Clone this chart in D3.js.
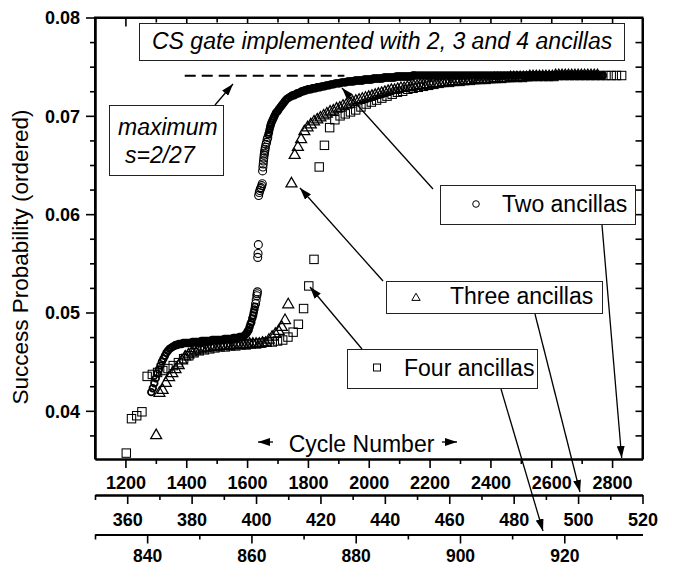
<!DOCTYPE html>
<html><head><meta charset="utf-8">
<script src="https://cdn.jsdelivr.net/npm/d3@7"></script>
<style>
body{margin:0;background:#fff}
svg{display:block}
text{font-family:'Liberation Sans',Arial,sans-serif}
</style>
</head><body>
<svg id="c" width="673" height="566"></svg>
<script>
// ---------------- data ----------------
const yMajorTicks = [0.04, 0.05, 0.06, 0.07, 0.08];
const axis1Ticks = [1200, 1400, 1600, 1800, 2000, 2200, 2400, 2600, 2800];
const axis2Ticks = [360, 380, 400, 420, 440, 460, 480, 500, 520];
const axis3Ticks = [840, 860, 880, 900, 920];

// Two ancillas: [cycle number (axis 1), success probability]
const twoLow = [[1285,.0419],[1290,.0423],[1295,.0428],[1300,.0433],[1305,.0438],[1310,.0442],[1315,.0446],[1320,.0450],
 [1325,.0453],[1330,.0456],[1335,.0459],[1340,.0461],[1345,.0463],[1350,.0464],[1355,.0465],[1360,.0466],[1365,.0467],
 [1370,.0467],[1375,.0468],[1380,.0468],[1385,.0468],[1390,.0469],[1395,.0469],
 [1400,.0469],[1405,.0469],[1410,.0469],[1415,.0469],[1420,.0470],[1425,.0470],[1430,.0470],[1435,.0470],[1440,.0470],
 [1445,.0470],[1450,.0471],[1455,.0471],[1460,.0471],[1465,.0471],[1470,.0471],[1475,.0471],[1480,.0471],[1485,.0472],
 [1490,.0472],[1495,.0472],[1500,.0472],[1505,.0472],[1510,.0472],[1515,.0472],[1520,.0472],[1525,.0473],[1530,.0473],
 [1535,.0473],[1540,.0473],[1545,.0473],[1550,.0473],[1555,.0474],[1560,.0474],[1565,.0474],[1570,.0474],[1575,.0475],
 [1580,.0475],[1585,.0475],[1590,.0476],[1593,.0477],[1596,.0478],[1599,.0479],[1602,.0481],[1605,.0482],[1608,.0485],
 [1611,.0488],[1614,.0490],[1617,.0494],[1620,.0497],[1622,.0500],[1624,.0503],[1626,.0506]];
const twoJump = [[1628,.0509],[1630,.0513],[1632,.0517],[1633,.0519],
 [1634,.0521],[1635,.0556],[1636,.0560],[1637,.0569],
 [1638,.0619],[1640,.0622],[1642,.0624],[1644,.0626],[1646,.0627],[1648,.0629],[1650,.0631],
 [1651,.0644],[1652,.0648],[1653,.0651],[1654,.0654],[1655,.0657],[1656,.0660],[1657,.0662],[1658,.0664],[1659,.0666],
 [1660,.0668],[1662,.0671],[1664,.0673],[1666,.0676],[1668,.0678]];
const twoHigh = [[1670,.0681],[1672,.0683],[1674,.0686],[1676,.0689],
 [1678,.0691],[1680,.0693],[1683,.0695],[1686,.0697],[1689,.0699],[1692,.0701],[1695,.0703],[1698,.0704],[1701,.0705],
 [1705,.0707],[1710,.0709],[1715,.0711],[1720,.0713],[1725,.0715],[1730,.0717],[1735,.0718],[1740,.0719],[1745,.0720],
 [1750,.0721],[1755,.0721],[1760,.0722],[1765,.0723],[1770,.0723],[1775,.0724],[1780,.0725],[1785,.0725],
 [1790,.0726],[1795,.0726],[1800,.0727],[1805,.0727],[1810,.0727],[1815,.0728],[1820,.0728],[1825,.0728],[1830,.0729],
 [1835,.0729],[1840,.0729],[1845,.0730],[1850,.0730],[1855,.0730],[1860,.0731],[1865,.0731],[1870,.0731],[1875,.0732],
 [1880,.0732],[1885,.0732],[1890,.0733],[1895,.0733],[1900,.0733],[1905,.0733],[1910,.0734],[1915,.0734],[1920,.0734],
 [1925,.0734],[1930,.0735],[1935,.0735],[1940,.0735],[1945,.0735],[1950,.0735],[1955,.0736],[1960,.0736],[1965,.0736],
 [1970,.0736],[1975,.0736],[1980,.0736],[1985,.0737],[1990,.0737],[1995,.0737],[2000,.0737],[2005,.0737],[2010,.0737],
 [2015,.0738],[2020,.0738],[2025,.0738],[2030,.0738],[2035,.0738],[2040,.0738],[2045,.0738],[2050,.0739],[2055,.0739],
 [2060,.0739],[2065,.0739],[2070,.0739],[2075,.0739],[2080,.0739],[2085,.0739],[2090,.0740],[2095,.0740],[2100,.0740],
 [2105,.0740],[2110,.0740],[2115,.0740],[2120,.0740],[2125,.0740],[2130,.0740],[2135,.0740],[2140,.0740],[2145,.0741],
 [2150,.0741]];
const twoTail = [[2155,.0741],[2160,.0741],[2165,.0741],[2170,.0741],[2175,.0741],[2180,.0741],[2185,.0741],[2190,.0741],
 [2195,.0741],[2200,.0741],[2205,.0741],[2210,.0741],[2215,.0741],[2220,.0741],[2225,.0741],[2230,.0741],[2235,.0741],
 [2240,.0741],[2245,.0741],[2250,.0741],[2255,.0741],[2260,.0741],[2265,.0741],[2270,.0741],[2275,.0741],[2280,.0741],
 [2285,.0741],[2290,.0741],[2295,.0741],[2300,.0741],[2305,.0741],[2310,.0741],[2315,.0741],[2320,.0741],[2325,.0741],
 [2330,.0741],[2335,.0741],[2340,.0741],[2345,.0741],[2350,.0741],[2355,.0741],[2360,.0741],[2365,.0741],[2370,.0741],
 [2375,.0741],[2380,.0741],[2385,.0741],[2390,.0741],[2395,.0741],[2400,.0741],[2405,.0741],[2410,.0741],[2415,.0741],
 [2420,.0741],[2425,.0741],[2430,.0741],[2435,.0741],[2440,.0741],[2445,.0741],[2450,.0741],[2455,.0741],[2460,.0741],
 [2465,.0741],[2470,.0741],[2475,.0741],[2480,.0741],[2485,.0741],[2490,.0741],[2495,.0741],[2500,.0741],[2505,.0741],
 [2510,.0741],[2515,.0741],[2520,.0741],[2525,.0741],[2530,.0741],[2535,.0741],[2540,.0741],[2545,.0741],[2550,.0741],
 [2555,.0741],[2560,.0741],[2565,.0741],[2570,.0741],[2575,.0741],[2580,.0741],[2585,.0741],[2590,.0741],[2595,.0741],
 [2600,.0741],[2605,.0741],[2610,.0741],[2615,.0741],[2620,.0741],[2625,.0741],[2630,.0741],[2635,.0741],[2640,.0741],
 [2645,.0741],[2650,.0741],[2655,.0741],[2660,.0741],[2665,.0741],[2670,.0741],[2675,.0741],[2680,.0741],[2685,.0741],
 [2690,.0741],[2695,.0741],[2700,.0741],[2705,.0741],[2710,.0741],[2715,.0741],[2720,.0741],[2725,.0741],[2730,.0741],
 [2735,.0741],[2740,.0741],[2745,.0741],[2750,.0741],[2755,.0741],[2760,.0741],[2765,.0741],[2770,.0741]];

// Three ancillas (cycle number on axis 2), one point per cycle from 369
const threeStart = 369;
const threeY = [.0375,.0418,.0421,.0428,.0434,.0438,.0442,.0446,.0451,.0455,
 .0457,.0459,.0461,.0462,.0463,.0464,.0464,.0465,.0465,.0465,
 .0466,.0466,.0466,.0466,.0467,.0467,.0467,.0467,.0467,.0468,
 .0468,.0468,.0468,.0469,.0469,.0472,.0475,.0478,.0481,.0485,
 .0492,.0508,.0631,.0660,.0668,.0676,.0684,.0688,.0691,.0694,
 .0696,.0698,.0700,.0702,.0704,.0705,.0707,.0708,.0710,.0711,
 .0712,.0714,.0715,.0716,.0717,.0718,.0719,.0720,.0721,.0722,
 .0723,.0724,.0725,.0726,.0726,.0727,.0728,.0728,.0729,.0729,
 .0730,.0730,.0731,.0731,.0732,.0732,.0733,.0733,.0733,.0734,
 .0734,.0734,.0735,.0735,.0735,.0735,.0736,.0736,.0736,.0736,
 .0737,.0737,.0737,.0737,.0737,.0738,.0738,.0738,.0738,.0738,
 .0739,.0739,.0739,.0739,.0739,.0739,.0740,.0740,.0740,.0740,
 .0740,.0740,.0740,.0740,.0741,.0741,.0741,.0741,.0741,.0741,
 .0741,.0741,.0741,.0741,.0741,.0741,.0741,.0741];

// Four ancillas (cycle number on axis 3), one point per cycle from 836
const fourStart = 836;
const fourY = [.0357,.0392,.0395,.0399,.0435,.0437,.0439,.0441,.0443,.0446,
 .0449,.0453,.0456,.0459,.0461,.0462,.0463,.0464,.0465,.0465,
 .0466,.0466,.0467,.0467,.0468,.0468,.0469,.0470,.0470,.0471,
 .0472,.0475,.0480,.0488,.0504,.0527,.0554,.0648,.0670,.0688,
 .0696,.0700,.0702,.0704,.0706,.0709,.0712,.0714,.0716,.0718,
 .0720,.0722,.0724,.0725,.0727,.0728,.0729,.0730,.0731,.0732,
 .0733,.0734,.0734,.0735,.0735,.0736,.0736,.0737,.0737,.0737,
 .0738,.0738,.0738,.0739,.0739,.0739,.0739,.0740,.0740,.0740,
 .0740,.0740,.0740,.0741,.0741,.0741,.0741,.0741,.0741,.0741,
 .0741,.0741,.0741,.0741,.0741,.0741];

const maxS = 2 / 27;
const maxLineCycles = [1395, 1920];

// ---------------- drawing ----------------
const svg = d3.select('#c');
const L = 95, R = 642.5, T = 17.5, B = 459;
const y = d3.scaleLinear().domain([0.0351, 0.08]).range([B, T]);
const x1 = d3.scaleLinear().domain([1100, 2900]).range([L, R]);
const x2 = d3.scaleLinear().domain([350, 520]).range([L, R]);
const x3 = d3.scaleLinear().domain([830, 935]).range([L, R]);

const defs = svg.append('defs');
defs.append('marker').attr('id', 'ah').attr('viewBox', '0 0 12 8')
  .attr('refX', 12).attr('refY', 4).attr('markerWidth', 12).attr('markerHeight', 8)
  .attr('markerUnits', 'userSpaceOnUse').attr('orient', 'auto')
  .append('path').attr('d', 'M0,0 L12,4 L0,8 Z').attr('fill', '#000');

function styleAxis(g, fs) {
  g.select('.domain').attr('stroke', '#000').attr('stroke-width', 2);
  g.selectAll('.tick line').attr('stroke', '#000').attr('stroke-width', 1.6);
  g.selectAll('.tick text').attr('fill', '#000').attr('font-size', fs || 18)
    .attr('font-weight', 'bold').attr('font-family', "'Liberation Sans',Arial,sans-serif");
}
function minorVals(scale, step, majors) {
  const d = scale.domain();
  return d3.range(Math.ceil(d[0] / step) * step, d[1] - 1e-9, step)
    .filter(v => !majors.some(m => Math.abs(m - v) < step / 10) && v > d[0] + step / 20);
}

// Left y axis
const yMinor = d3.range(0.0375, 0.08, 0.0025).filter(v => !yMajorTicks.some(m => Math.abs(m - v) < 1e-6));
let g = svg.append('g').attr('transform', `translate(${L},0)`);
g.call(d3.axisLeft(y).tickValues(yMinor).tickSize(5).tickSizeOuter(0).tickFormat(''));
styleAxis(g);
g = svg.append('g').attr('transform', `translate(${L},0)`);
g.call(d3.axisLeft(y).tickValues(yMajorTicks).tickSize(9).tickSizeOuter(0).tickPadding(6).tickFormat(d3.format('.2f')));
styleAxis(g);
g.selectAll('.tick text').attr('dy', '0.36em');

// Right y axis (ticks inward)
g = svg.append('g').attr('transform', `translate(${R},0)`);
g.call(d3.axisLeft(y).tickValues(yMinor.concat(yMajorTicks)).tickSize(7).tickSizeOuter(0).tickFormat(''));
styleAxis(g);

// Top axis (ticks inward)
const a1Minor = minorVals(x1, 100, axis1Ticks);
g = svg.append('g').attr('transform', `translate(0,${T})`);
g.call(d3.axisBottom(x1).tickValues(a1Minor).tickSize(5).tickSizeOuter(0).tickFormat(''));
styleAxis(g);
g = svg.append('g').attr('transform', `translate(0,${T})`);
g.call(d3.axisBottom(x1).tickValues(axis1Ticks).tickSize(9).tickSizeOuter(0).tickFormat(''));
styleAxis(g);

// Bottom axis 1 (two ancillas)
g = svg.append('g').attr('transform', `translate(0,${B})`);
g.call(d3.axisBottom(x1).tickValues(a1Minor).tickSize(5).tickSizeOuter(0).tickFormat(''));
styleAxis(g);
g = svg.append('g').attr('transform', `translate(0,${B})`);
g.call(d3.axisBottom(x1).tickValues(axis1Ticks).tickSize(9).tickSizeOuter(0).tickFormat(d3.format('d')));
styleAxis(g);
g.selectAll('.tick text').attr('y', 30).attr('dy', 0);

// Axis 2 (three ancillas)
const A2 = 495;
const a2Minor = minorVals(x2, 10, axis2Ticks).concat([350]);
g = svg.append('g').attr('transform', `translate(0,${A2})`);
g.call(d3.axisBottom(x2).tickValues(a2Minor).tickSize(5).tickSizeOuter(0).tickFormat(''));
styleAxis(g);
g = svg.append('g').attr('transform', `translate(0,${A2})`);
g.call(d3.axisBottom(x2).tickValues(axis2Ticks).tickSize(9).tickSizeOuter(0).tickFormat(d3.format('d')));
styleAxis(g);
g.selectAll('.tick text').attr('y', 30.5).attr('dy', 0);

// Axis 3 (four ancillas)
const A3 = 534.5;
const a3Minor = minorVals(x3, 10, axis3Ticks).concat([830]);
g = svg.append('g').attr('transform', `translate(0,${A3})`);
g.call(d3.axisBottom(x3).tickValues(a3Minor).tickSize(5).tickSizeOuter(0).tickFormat(''));
styleAxis(g);
g = svg.append('g').attr('transform', `translate(0,${A3})`);
g.call(d3.axisBottom(x3).tickValues(axis3Ticks).tickSize(9).tickSizeOuter(0).tickFormat(d3.format('d')));
styleAxis(g, 17.5);
g.selectAll('.tick text').attr('y', 27.5).attr('dy', 0);

// frame
svg.append('path').attr('d', `M${L},${B}V${T}H${R}V${B}`).attr('fill', 'none')
  .attr('stroke', '#000').attr('stroke-width', 2);

// Maximum dashed line
svg.append('line').attr('x1', x1(maxLineCycles[0])).attr('x2', x1(maxLineCycles[1]))
  .attr('y1', y(maxS)).attr('y2', y(maxS)).attr('stroke', '#000').attr('stroke-width', 2)
  .attr('stroke-dasharray', '11,6');

// data
const plot = svg.append('g');
const fourData = fourY.map((v, i) => [fourStart + i, v]);
const threeData = threeY.map((v, i) => [threeStart + i, v]);

plot.append('g').selectAll('rect').data(fourData).join('rect')
  .attr('x', d => x3(d[0]) - 4.2).attr('y', d => y(d[1]) - 4.2)
  .attr('width', 8.4).attr('height', 8.4)
  .attr('fill', 'none').attr('stroke', '#000').attr('stroke-width', 1.05);

const tri = d3.symbol().type(d3.symbolTriangle).size(52);
plot.append('g').selectAll('path').data(threeData).join('path')
  .attr('d', tri).attr('transform', d => `translate(${x2(d[0])},${y(d[1])})`)
  .attr('fill', 'none').attr('stroke', '#000').attr('stroke-width', 1.25);

// dense runs of circles merge into a solid band in the original; isolated ones stay thin
[[twoLow, 3.3, 1.8], [twoJump, 4, 1.1], [twoHigh, 3.3, 1.8], [twoTail, 3.2, 1.7]].forEach(([arr, r, sw]) => {
  plot.append('g').selectAll('circle').data(arr).join('circle')
    .attr('cx', d => x1(d[0])).attr('cy', d => y(d[1])).attr('r', r)
    .attr('fill', 'none').attr('stroke', '#000').attr('stroke-width', sw);
});

// text boxes
function box(x, yy, w, h) {
  svg.append('rect').attr('x', x).attr('y', yy).attr('width', w).attr('height', h)
    .attr('fill', '#fff').attr('stroke', '#222').attr('stroke-width', 1);
}
function txt(x, yy, s, opts) {
  opts = opts || {};
  return svg.append('text').attr('x', x).attr('y', yy).text(s)
    .attr('font-size', opts.fs || 23).attr('font-style', opts.it ? 'italic' : 'normal')
    .attr('text-anchor', opts.anchor || 'start').attr('fill', '#000');
}
function arrow(xa, ya, xb, yb) {
  svg.append('line').attr('x1', xa).attr('y1', ya).attr('x2', xb).attr('y2', yb)
    .attr('stroke', '#000').attr('stroke-width', 1.3).attr('marker-end', 'url(#ah)');
}

box(139.5, 23.5, 485, 37);
txt(152, 48.5, 'CS gate implemented with 2, 3 and 4 ancillas', {it: true});

box(109.5, 105.5, 114, 70);
txt(118, 135, 'maximum', {it: true});
txt(125, 163, 's=2/27', {it: true});

box(440.5, 185.5, 195, 39);
svg.append('circle').attr('cx', 476).attr('cy', 204).attr('r', 3.3).attr('fill', 'none').attr('stroke', '#000');
txt(502, 211.5, 'Two ancillas');

box(386.5, 281.5, 216, 32);
svg.append('path').attr('d', d3.symbol().type(d3.symbolTriangle).size(30)).attr('transform', 'translate(416,298)')
  .attr('fill', 'none').attr('stroke', '#000');
txt(450, 304, 'Three ancillas');

box(347.5, 349.5, 190, 39);
svg.append('rect').attr('x', 373.5).attr('y', 364).attr('width', 7).attr('height', 7).attr('fill', 'none').attr('stroke', '#000');
txt(404, 376, 'Four ancillas');

arrow(215, 105, 233, 84);
arrow(433, 189, 342, 88);
arrow(602, 225, 621.7, 458);
arrow(383, 281, 300, 188);
arrow(535, 314, 580, 492);
arrow(362, 349, 310, 287);
arrow(501, 389, 543, 531);

// axis titles
svg.append('text').attr('transform', 'translate(28,257) rotate(-90)').attr('text-anchor', 'middle')
  .attr('font-size', 22.5).attr('fill', '#000').text('Success Probability (ordered)');
txt(361.5, 451.5, 'Cycle Number', {anchor: 'middle'});
arrow(273, 442, 258, 442);
arrow(442, 442, 457, 442);
</script>
</body></html>
